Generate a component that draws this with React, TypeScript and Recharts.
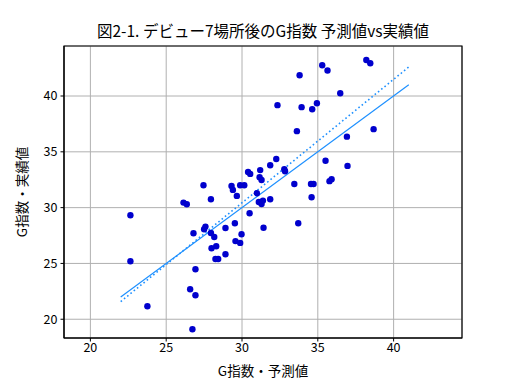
import React from 'react';
import {
  ScatterChart,
  Scatter,
  XAxis,
  YAxis,
  CartesianGrid,
  ReferenceLine,
  ReferenceArea,
  Label,
} from 'recharts';

const title = '図2-1. デビュー7場所後のG指数 予測値vs実績値';
const xLabel = 'G指数・予測値';
const yLabel = 'G指数・実績値';

const predicted = [
  22.64, 22.64, 23.76, 26.14, 26.36, 26.8, 26.93, 26.58, 26.93, 26.73,
  27.46, 27.95, 29.31, 29.4, 29.88, 30.15, 29.66, 30.4, 30.54, 31.2,
  31.16, 31.29, 31.86, 32.26, 30.98, 31.11, 31.29, 31.38, 31.86, 30.5,
  29.53, 27.5, 27.59, 28.91, 31.42, 27.95, 28.17, 27.99, 28.3, 28.25,
  28.43, 28.91, 29.57, 29.88, 29.97, 32.79, 32.84, 33.45, 34.55, 34.72,
  34.59, 33.71, 35.51, 36.96, 35.77, 35.91, 33.8, 35.29, 35.64, 38.2,
  38.46, 36.48, 32.34, 33.93, 34.63, 34.94, 33.62, 38.68, 36.92,
];
const actual = [
  29.32, 25.2, 21.16, 30.45, 30.3, 27.71, 24.48, 22.69, 22.15, 19.1,
  32.0, 30.75, 31.94, 31.59, 32.0, 32.0, 31.05, 33.2, 33.02, 33.36,
  32.72, 32.48, 33.8, 34.36, 31.29, 30.51, 30.33, 30.63, 30.75, 29.5,
  28.6, 28.06, 28.3, 28.18, 28.2, 27.73, 27.37, 26.36, 26.54, 25.4,
  25.4, 25.82, 27.0, 26.84, 27.62, 33.44, 33.26, 32.12, 32.12, 32.12,
  30.93, 28.6, 34.2, 33.74, 32.37, 32.55, 41.86, 42.76, 42.28, 43.23,
  42.94, 40.25, 39.18, 39.0, 38.82, 39.35, 36.85, 37.03, 36.36,
];

const identityX = [22, 41];
const identityY = [22, 41];
const fitX = [22, 41];
const fitY = [21.58, 42.6];

const xTicks = [20, 25, 30, 35, 40];
const yTicks = [20, 25, 30, 35, 40];
const xDomain = [18.26, 44.51];
const yDomain = [18.32, 44.48];

const points = predicted.map((x, i) => ({ x, y: actual[i] }));

const FONT = '"Noto Sans CJK JP", "DejaVu Sans", sans-serif';
const W = 512;
const H = 380;

const Dot = (p: any) => <circle cx={p.cx} cy={p.cy} r={3.2} fill="#0000CD" />;

export default function App() {
  return (
    <div style={{ position: 'absolute', left: 0, top: 0, width: W, height: H, background: '#fff', fontFamily: FONT }}>
      <ScatterChart width={W} height={H} margin={{ top: 46, right: 50, bottom: 12, left: 24 }}>
        <text x={263} y={37} textAnchor="middle" fontSize={15.5} fill="#000" fontFamily={FONT}>
          {title}
        </text>
        <CartesianGrid stroke="#b0b0b0" strokeWidth={1} xAxisId="b" yAxisId="l" />
        <XAxis
          xAxisId="b"
          type="number"
          dataKey="x"
          domain={xDomain}
          ticks={xTicks}
          allowDataOverflow
          height={30}
          tickSize={3.5}
          tickMargin={2}
          stroke="#000"
          tickLine={{ stroke: '#000' }}
          axisLine={{ stroke: '#000' }}
          tick={{ fill: '#000', fontSize: 12.5, fontFamily: FONT }}
        >
          <Label
            content={(props: any) => {
              const vb = props.viewBox;
              return (
                <text x={vb.x + vb.width / 2} y={376} textAnchor="middle" fontSize={13.5} fill="#000" fontFamily={FONT}>
                  {xLabel}
                </text>
              );
            }}
          />
        </XAxis>
        <YAxis
          yAxisId="l"
          type="number"
          dataKey="y"
          domain={yDomain}
          ticks={yTicks}
          allowDataOverflow
          width={40}
          tickSize={3.5}
          tickMargin={3}
          stroke="#000"
          tickLine={{ stroke: '#000' }}
          axisLine={{ stroke: '#000' }}
          tick={{ fill: '#000', fontSize: 12.5, fontFamily: FONT }}
        >
          <Label
            content={(props: any) => {
              const vb = props.viewBox;
              const cy = vb.y + vb.height / 2;
              return (
                <text x={27} y={cy} transform={`rotate(-90 27 ${cy})`} textAnchor="middle" fontSize={13.5} fill="#000" fontFamily={FONT}>
                  {yLabel}
                </text>
              );
            }}
          />
        </YAxis>
        <ReferenceLine
          xAxisId="b"
          yAxisId="l"
          segment={[{ x: identityX[0], y: identityY[0] }, { x: identityX[1], y: identityY[1] }]}
          stroke="#1E90FF"
          strokeWidth={1.2}
        />
        <ReferenceLine
          xAxisId="b"
          yAxisId="l"
          segment={[{ x: fitX[0], y: fitY[0] }, { x: fitX[1], y: fitY[1] }]}
          stroke="#1E90FF"
          strokeWidth={1.6}
          strokeDasharray="1.6 2.6"
        />
        <Scatter xAxisId="b" yAxisId="l" data={points} shape={Dot} isAnimationActive={false} />
        <ReferenceArea
          xAxisId="b"
          yAxisId="l"
          x1={xDomain[0]}
          x2={xDomain[1]}
          y1={yDomain[0]}
          y2={yDomain[1]}
          fill="none"
          fillOpacity={0}
          stroke="#000"
          strokeWidth={1.2}
          ifOverflow="visible"
        />
      </ScatterChart>
    </div>
  );
}
